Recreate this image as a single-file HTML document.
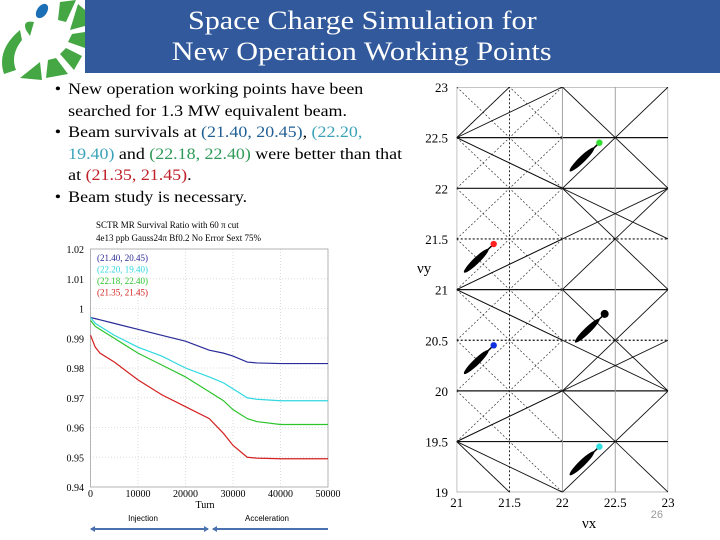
<!DOCTYPE html>
<html><head><meta charset="utf-8"><style>
html,body{margin:0;width:720px;height:540px;overflow:hidden}
body{background:#fff;font-family:"Liberation Serif",serif;position:relative}
.hdr{position:absolute;left:85px;top:0;width:635px;height:73px;background:#31599b;color:#fff;font-size:26px;line-height:31px;padding-top:5px;box-sizing:border-box}
.hdr div{width:554px;text-align:center}
.hdr span{display:inline-block;transform:scaleX(1.16)}
ul{position:absolute;left:48px;top:79px;margin:0;padding:0;list-style:none;font-size:16px;line-height:21.6px;width:320px;transform:scaleX(1.12);transform-origin:0 0}
li{position:relative;padding-left:18px}
li:before{content:"•";position:absolute;left:6px}
.b{color:#1f5f94}.c{color:#3aa3b8}.g{color:#2e9a57}.r{color:#c0202a}
svg{position:absolute;left:0;top:0}
</style></head><body>
<svg width="90" height="80">
<ellipse cx="42" cy="11" rx="5" ry="8" transform="rotate(35 42 11)" fill="#1a6fb5"/>
<g fill="#44a743">
<path d="M60 2 L76 0 L66 22 L58 20Z"/><path d="M78 4 L85 10 L85 26 L70 30Z"/><path d="M72 34 L85 32 L85 48 L68 42Z"/>
<path d="M66 48 L82 56 L74 70 L60 54Z"/><path d="M56 58 L68 74 L46 78 L48 60Z"/><path d="M40 62 L42 80 L20 78Z"/>
<path d="M22 40 Q10 55 16 70 L4 74 Q-4 50 20 30Z"/><path d="M26 30 Q22 20 34 22 L30 36Z"/>
</g></svg>
<div class="hdr"><div><span>Space Charge Simulation for</span><br><span>New Operation Working Points</span></div></div>
<ul>
<li>New operation working points have been searched for 1.3 MW equivalent beam.</li>
<li>Beam survivals at <span class="b">(21.40, 20.45)</span>, <span class="c">(22.20, 19.40)</span> and <span class="g">(22.18, 22.40)</span> were better than that at <span class="r">(21.35, 21.45)</span>.</li>
<li>Beam study is necessary.</li>
</ul>
<svg id="c1" width="720" height="540" font-family="Liberation Serif, serif"></svg>
<svg id="c2" width="720" height="540" font-family="Liberation Serif, serif"></svg>
<script>
const turns=[0,500,1000,2000,5000,10000,15000,20000,25000,28000,30000,33000,35000,40000,50000];
const blueS=[0.997,0.9968,0.9966,0.9962,0.995,0.993,0.991,0.989,0.986,0.985,0.984,0.982,0.9817,0.9815,0.9815];
const cyanS=[0.997,0.996,0.995,0.994,0.991,0.987,0.984,0.980,0.977,0.975,0.973,0.970,0.9695,0.969,0.969];
const greenS=[0.996,0.995,0.994,0.993,0.990,0.985,0.981,0.977,0.972,0.969,0.966,0.963,0.962,0.961,0.961];
const redS=[0.991,0.989,0.987,0.985,0.982,0.976,0.971,0.967,0.963,0.958,0.954,0.950,0.9497,0.9495,0.9495];
const yTicks=[0.94,0.95,0.96,0.97,0.98,0.99,1,1.01,1.02];
const xTicks=[0,10000,20000,30000,40000,50000];
const legend=["(21.40, 20.45)","(22.20, 19.40)","(22.18, 22.40)","(21.35, 21.45)"];
const NS="http://www.w3.org/2000/svg";
function mk(p,t,a,txt){const e=document.createElementNS(NS,t);for(const k in a)e.setAttribute(k,a[k]);if(txt!=null)e.textContent=txt;p.appendChild(e);return e;}
const c1=document.getElementById('c1');
const X=v=>90.5+v/50000*237.5, Y=v=>487-(v-0.94)/0.08*238;
mk(c1,'text',{x:96,y:228,'font-size':9},'SCTR MR Survival Ratio with 60 π cut');
mk(c1,'text',{x:96,y:241,'font-size':9},'4e13 ppb Gauss24π Bf0.2 No Error Sext 75%');
yTicks.forEach(t=>{const l=mk(c1,'line',{x1:90,x2:328,y1:Y(t),y2:Y(t),stroke:'#ddd','stroke-dasharray':'1,2'});
const tx=mk(c1,'text',{x:84,y:Y(t)+4,'font-size':10,'text-anchor':'end'},String(t));});
xTicks.forEach(t=>{mk(c1,'line',{x1:X(t),x2:X(t),y1:249,y2:487,stroke:'#ddd','stroke-dasharray':'1,2'});
const tx=mk(c1,'text',{x:X(t),y:497,'font-size':10,'text-anchor':'middle'},String(t));});
mk(c1,'rect',{x:90.5,y:249,width:237.5,height:238,fill:'none',stroke:'#999','stroke-width':0.7});
mk(c1,'text',{x:205,y:508,'font-size':10,'text-anchor':'middle'},'Turn');
const cols=['#2a2a9a','#30d8e0','#2ec42e','#d42020'];
[blueS,cyanS,greenS,redS].forEach((s,i)=>{const p=mk(c1,'polyline',{points:turns.map((t,j)=>X(t)+','+Y(s[j])).join(' '),fill:'none',stroke:cols[i],'stroke-width':1.2});

const lt=mk(c1,'text',{x:97,y:261+i*11.5,'font-size':9,fill:cols[i]},legend[i]);});
mk(c1,'text',{x:143,y:521,'font-size':8,'text-anchor':'middle','font-family':'Liberation Sans, sans-serif'},'Injection');
mk(c1,'text',{x:267,y:521,'font-size':8,'text-anchor':'middle','font-family':'Liberation Sans, sans-serif'},'Acceleration');
[[91,208],[213,328]].forEach(a=>{mk(c1,'line',{x1:a[0],x2:a[1],y1:529,y2:529,stroke:'#4a72b0','stroke-width':2});});
mk(c1,'path',{d:'M90 529 l5 -3 v6z M209 529 l-5 -3 v6z M212 529 l5 -3 v6z',fill:'#4a72b0'});

const c2=document.getElementById('c2');
const TX=v=>456.7+(v-21)*105.7, TY=v=>87+(23-v)*101.3;
const tunesX=[21.35,21.35,22.35,22.35,22.40];
const tunesY=[21.45,20.45,22.45,19.45,20.76];
const tuneCols=['#ff2020','#1030e0','#30e030','#30e0e0','#000'];
const gyTicks=[19,19.5,20,20.5,21,21.5,22,22.5,23];
const gxTicks=[21,21.5,22,22.5,23];
const d=mk(c2,'defs',{});const cp=mk(d,'clipPath',{id:'clp'});mk(cp,'rect',{x:TX(21),y:TY(23),width:TX(23)-TX(21),height:TY(19)-TY(23)});
const g=mk(c2,'g',{'clip-path':'url(#clp)'});
function L(x1,y1,x2,y2,dash,col,w){mk(g,'line',{x1:TX(x1),y1:TY(y1),x2:TX(x2),y2:TY(y2),stroke:col||'#111','stroke-width':w||0.9,'stroke-dasharray':dash?'2,2':'none'});}
mk(g,'rect',{x:TX(21),y:TY(23),width:TX(23)-TX(21),height:TY(19)-TY(23),fill:'none',stroke:'#888'});
gyTicks.forEach(v=>{const dash=(v===21.5||v===20.5);if(v>19&&v<23)L(21,v,23,v,dash,'#111',1.2);});
L(21.5,19,21.5,23,true);L(22,19,22,23,false,'#999');L(22.5,19,22.5,23,false,'#999');
for(let k=-2;k<=3;k+=1){L(22,22-k,23,23-k);}
for(let s=40;s<=46;s+=1){L(22,s-22,23,s-23);}
for(let k=-2;k<=1.5;k+=0.5){L(21,21-k,22,22-k,true,'#333',0.7);}
for(let s=39.5;s<=44.5;s+=0.5){L(21,s-21,22,s-22,true,'#333',0.7);}
[[22.5,[[22,23],[21.5,23],[22,22],[23,21.5]]],[21,[[22,21.5],[22,20.5],[23,22],[23,20]]],[19.5,[[22,20],[22,19],[21.5,19],[23,20.5]]]].forEach(f=>f[1].forEach(p=>L(21,f[0],p[0],p[1])));
gyTicks.forEach(v=>{const t=mk(c2,'text',{x:448,y:TY(v)+5,'font-size':13,'text-anchor':'end'},String(v));});
gxTicks.forEach(v=>{const t=mk(c2,'text',{x:TX(v),y:507,'font-size':13,'text-anchor':'middle'},String(v));});
mk(c2,'text',{x:417,y:273,'font-size':15},'νy');
mk(c2,'text',{x:582,y:528,'font-size':15},'νx');
mk(c2,'text',{x:663,y:518,'font-size':11,fill:'#999','font-family':'Liberation Sans, sans-serif','text-anchor':'end'},'26');
tunesX.forEach((x,i)=>{const y=tunesY[i];
const cx=(TX(x-0.27)+TX(x-0.06))/2, cy=(TY(y-0.27)+TY(y-0.06))/2;
const b=mk(c2,'ellipse',{cx:cx,cy:cy,rx:17,ry:3.2,transform:'rotate(-44 '+cx+' '+cy+')',fill:'#000'});
mk(c2,'line',{x1:cx,y1:cy,x2:TX(x),y2:TY(y),stroke:'#000','stroke-width':1.5});
const c=mk(c2,'circle',{cx:TX(x),cy:TY(y),r:i===4?4:3.2,fill:tuneCols[i]});});
</script>
</body></html>
